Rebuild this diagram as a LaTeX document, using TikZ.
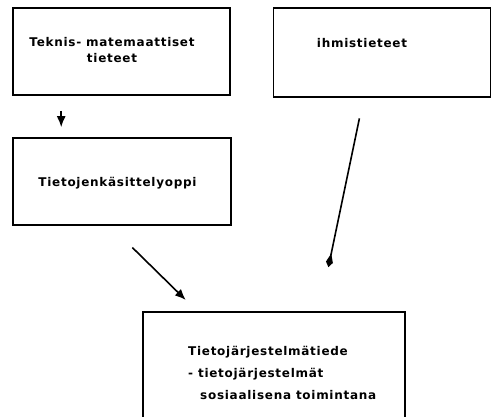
\documentclass[tikz,border=0pt]{standalone}
\usepackage{tikz}
\usepackage{xcolor}
\usepackage{fontspec}
\setmainfont{DejaVu Sans}
\newfontfamily\plotfont[LetterSpace=6]{DejaVu Sans Bold}
\usetikzlibrary{arrows.meta}

\tikzset{
	laatikko/.style={draw, line width=1.6pt, rectangle, inner sep=0pt},
	teksti/.style={font=\plotfont\fontsize{12}{16}\selectfont, inner sep=0pt},
	nuoli/.style={line width=1.6pt, -{Latex[length=11pt,width=9pt]}},
	ohutnuoli/.style={line width=1.6pt, -{Kite[length=14pt,width=7pt,inset=9pt]}}
}

\begin{document}
\begin{tikzpicture}[x=1pt,y=-1pt]
			\useasboundingbox (0,0) rectangle (492,417);
			% laatikot
			\node[laatikko, minimum width=217pt, minimum height=87pt] (tekn) at (121.5,51.5) {};
			\node[laatikko, minimum width=217pt, minimum height=89pt] (ihmis) at (382,52.5) {};
			\node[laatikko, minimum width=218pt, minimum height=87pt] (tieto) at (122,181.5) {};
			\node[laatikko, minimum width=262pt, minimum height=130pt] (tjt) at (274,377) {};
			% tekstit
			\node[teksti, align=center] (tekn-t) at (112,50) {Teknis- matemaattiset\\tieteet};
			\node[teksti] (ihmis-t) at (362,43) {ihmistieteet};
			\node[teksti] (tieto-t) at (117.5,183) {Tietojenkäsittelyoppi};
			\node[teksti, font=\plotfont\fontsize{12}{22}\selectfont, align=left, anchor=north west] (tjt-t) at (188,346)
			{
				Tietojärjestelmätiede\\
				- tietojärjestelmät\\
				\hspace*{12pt}sosiaalisena toimintana
			};
			% nuolet
			\draw[nuoli, shorten <=15pt, shorten >=10pt] ([xshift=49pt]tekn.south west) -- ([xshift=49pt]tieto.north west);
			\draw[nuoli, shorten <=31pt, shorten >=16pt] ([xshift=98pt]tieto.south west) -- ([xshift=55pt]tjt.north west);
			\draw[ohutnuoli, shorten <=21pt, shorten >=45pt] ([xshift=91pt]ihmis.south west) -- ([xshift=177pt]tjt.north west);
		\end{tikzpicture}
\end{document}
